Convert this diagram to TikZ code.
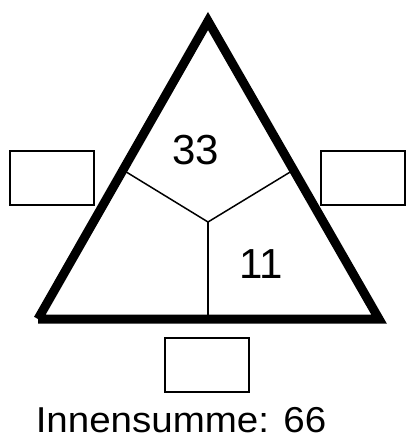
\documentclass[tikz,border=0pt]{standalone}
\usepackage{fontspec}
\setmainfont{Liberation Sans}
\usetikzlibrary{calc}
\tikzset{
    answerbox/.style={draw, line width=2pt, minimum width=84pt, minimum height=54pt, inner sep=0pt},
    bignum/.style={font=\fontsize{42}{48}\selectfont, inner sep=0pt, anchor=base}
}
\begin{document}
\begin{tikzpicture}[x=1pt,y=-1pt]
    \useasboundingbox (0,0) rectangle (406,443);
    % corners of the triangle and the middle point
    \coordinate (top) at (208,21);
    \coordinate (left) at (38,319);
    \coordinate (right) at (379,319);
    \coordinate (mid) at (208,222);
    \coordinate (ml) at ($(top)!0.5!(left)$);
    \coordinate (mr) at ($(top)!0.5!(right)$);
    \coordinate (mb) at (208,319);
    \draw[line width=1.5pt] (ml) -- (mid) -- (mr);
    \draw[line width=1.5pt] (mid) -- (mb);
    \draw[line width=9pt, line join=miter] (left) -- (right) -- (top) -- (left);
    \node[bignum] (upper) at (196,165) {33};
    \node[bignum] (lowright) at (261,278) {11};
    \node[answerbox] (boxl) at (52,178) {};
    \node[answerbox] (boxr) at (363,178) {};
    \node[answerbox] (boxb) at (207,365) {};
    \node[font=\fontsize{36}{42}\selectfont, inner sep=0pt, anchor=base] (sum) at (181,432) {\scalebox{1.07}[1]{Innensumme: 66}};
\end{tikzpicture}
\end{document}
